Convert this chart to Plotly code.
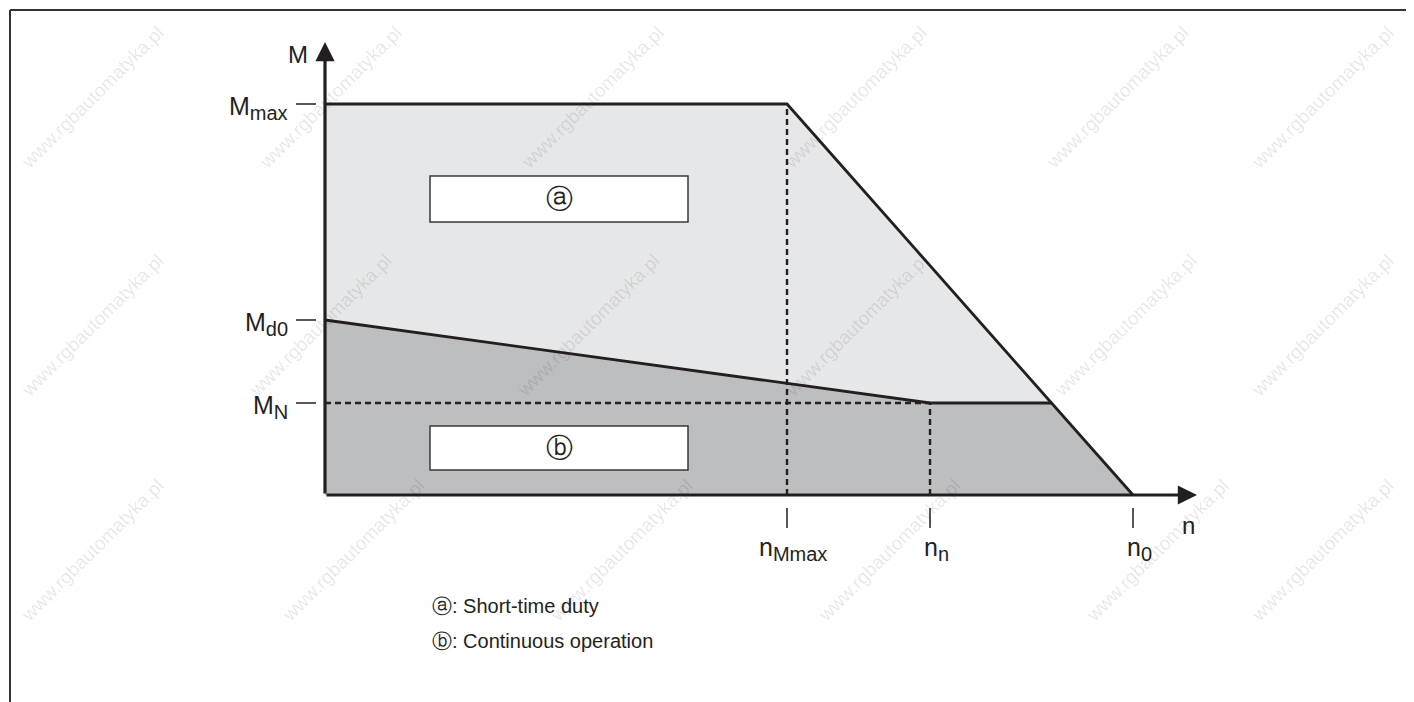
import plotly.graph_objects as go

# characteristic curve of the drive (values in drawing units, origin at n=0, M=0)
n_Mmax = 462
n_n = 605
n_0 = 808
M_max = 391
M_d0 = 175
M_N = 92

n_ticks = [n_Mmax, n_n, n_0]
n_labels = ["Mmax", "n", "0"]
M_ticks = [M_max, M_d0, M_N]
M_labels = ["max", "d0", "N"]

legend_lines = ["ⓐ: Short-time duty", "ⓑ: Continuous operation"]
watermark = "www.rgbautomatyka.pl"

INK = "#231f20"
LIGHT = "#e6e7e8"
DARK = "#bcbec0"
FONT = "Liberation Sans, Arial, sans-serif"

# where the M_N level meets the falling limit line
n_corner = n_0 - M_N * (n_0 - n_Mmax) / M_max


def sub(base, s, size=20):
    return f"{base}<sub><span style='font-size:{size}px'>{s}</span></sub>"


fig = go.Figure()

# short-time duty area
fig.add_trace(go.Scatter(
    x=[0, 0, n_Mmax, n_0], y=[0, M_max, M_max, 0], mode="lines",
    fill="toself", fillcolor=LIGHT, line=dict(width=0), hoverinfo="skip"))
# continuous operation area
fig.add_trace(go.Scatter(
    x=[0, 0, n_n, n_corner, n_0], y=[0, M_d0, M_N, M_N, 0], mode="lines",
    fill="toself", fillcolor=DARK, line=dict(width=0), hoverinfo="skip"))

# dashed helper lines
dash = dict(color=INK, width=2.4, dash="6px,4px")
fig.add_trace(go.Scatter(x=[n_Mmax, n_Mmax], y=[0, M_max], mode="lines", line=dash, hoverinfo="skip"))
fig.add_trace(go.Scatter(x=[0, n_n], y=[M_N, M_N], mode="lines", line=dash, hoverinfo="skip"))
fig.add_trace(go.Scatter(x=[n_n, n_n], y=[0, M_N], mode="lines", line=dash, hoverinfo="skip"))

# limit curves
fig.add_trace(go.Scatter(x=[0, n_Mmax, n_0], y=[M_max, M_max, 0], mode="lines",
                         line=dict(color=INK, width=2.8), hoverinfo="skip"))
fig.add_trace(go.Scatter(x=[0, n_n, n_corner], y=[M_d0, M_N, M_N], mode="lines",
                         line=dict(color=INK, width=2.8), hoverinfo="skip"))

shapes = []
annotations = []

# faint site watermark, tiled diagonally (page pixel centres -> drawing units)
wm_rows = [(97, [92, 330, 592, 855, 1117, 1322]),
           (325, [92, 320, 588, 856, 1125, 1322]),
           (550, [92, 353, 621, 889, 1157, 1322])]
for py, xs in wm_rows:
    for px in xs:
        annotations.append(dict(x=px - 325, y=495 - py, text=watermark, showarrow=False, textangle=-45,
                                font=dict(size=19, color="rgba(0,0,0,0.10)")))

# axes with arrows
for tip in [dict(x=0, y=453), dict(x=872, y=0)]:
    annotations.append(dict(x=tip["x"], y=tip["y"], ax=0, ay=0, xref="x", yref="y", axref="x", ayref="y",
                            text="", showarrow=True, arrowhead=2, arrowsize=1.2, arrowwidth=3.2,
                            arrowcolor=INK, standoff=0, startstandoff=0))
annotations.append(dict(x=-27, y=441, text="M", showarrow=False, font=dict(size=24)))
annotations.append(dict(x=863, y=-30, text="n", showarrow=False, font=dict(size=24)))

# y ticks
for v, lab in zip(M_ticks, M_labels):
    shapes.append(dict(type="line", x0=-29, x1=-9, y0=v, y1=v, line=dict(color=INK, width=1.5)))
    annotations.append(dict(x=-35, y=v - 4, text=sub("M", lab), showarrow=False, xanchor="right",
                            yanchor="middle", font=dict(size=25)))

# x ticks
for v, lab in zip(n_ticks, n_labels):
    shapes.append(dict(type="line", x0=v, x1=v, y0=-13, y1=-33, line=dict(color=INK, width=1.5)))
    annotations.append(dict(x=v + 6, y=-36, text=sub("n", lab), showarrow=False, xanchor="center",
                            yanchor="top", font=dict(size=25)))

# label boxes
for (y0, y1), mark in zip([(273, 319), (25, 69)], ["ⓐ", "ⓑ"]):
    shapes.append(dict(type="rect", x0=105, x1=363, y0=y0, y1=y1, fillcolor="white",
                       line=dict(color="#3a3a3a", width=1.5), layer="above"))
    annotations.append(dict(x=234, y=(y0 + y1) / 2, text=mark, showarrow=False, font=dict(size=27)))

# legend text
for i, line in enumerate(legend_lines):
    annotations.append(dict(x=105, y=-111 - 35 * i, text=line, showarrow=False, xanchor="left",
                            font=dict(size=20)))

# page frame
shapes.append(dict(type="line", x0=-315, x1=1089, y0=485, y1=485, line=dict(color="#333", width=2)))
shapes.append(dict(type="line", x0=-315, x1=-315, y0=485, y1=-207, line=dict(color="#333", width=2)))

# the page adds an 8px body margin, so the figure is 8px smaller and shifted
fig.update_layout(
    width=1406, height=694, margin=dict(l=0, r=0, t=0, b=0),
    paper_bgcolor="white", plot_bgcolor="white", showlegend=False,
    font=dict(family=FONT, color=INK),
    xaxis=dict(range=[-317, 1089], visible=False, fixedrange=True),
    yaxis=dict(range=[-207, 487], visible=False, fixedrange=True),
    shapes=shapes, annotations=annotations,
)

fig.write_html("out.html")
